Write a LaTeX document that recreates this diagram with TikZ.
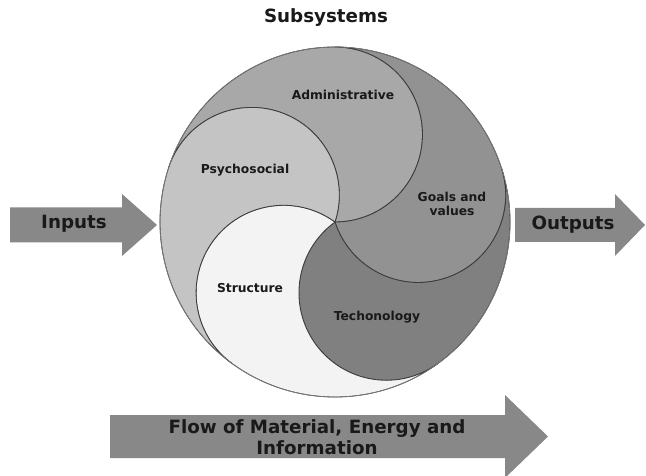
\documentclass[tikz,border=0pt]{standalone}
\usepackage{fontspec}
\setmainfont{DejaVu Sans}
\usetikzlibrary{calc}
\definecolor{admingray}{RGB}{168,168,168}
\definecolor{goalgray}{RGB}{146,146,146}
\definecolor{techgray}{RGB}{128,128,128}
\definecolor{psygray}{RGB}{196,196,196}
\definecolor{structgray}{RGB}{243,243,243}
\definecolor{arrowgray}{RGB}{136,136,136}
\definecolor{linegray}{RGB}{60,60,60}
\definecolor{textgray}{RGB}{25,25,25}
\tikzset{
  petal/.style={draw=linegray, line width=0.7pt},
  partlabel/.style={font=\bfseries\fontsize{10.5}{12.5}\selectfont, text=textgray, align=center, inner sep=0pt},
  bigtext/.style={font=\bfseries\fontsize{15.6}{18}\selectfont, text=textgray, align=center, inner sep=0pt}
}
% fat arrow: x start, x head, x tip, y centre, half body, half head
\newcommand{\fatarrow}[6]{%
\fill[arrowgray] (#1,#4-#5) -- (#2,#4-#5) -- (#2,#4-#6) -- (#3,#4) -- (#2,#4+#6) -- (#2,#4+#5) -- (#1,#4+#5) -- cycle;}

\begin{document}
\begin{tikzpicture}[x=0.03cm, y=0.03cm]
\useasboundingbox (0,0) rectangle (646,475);
\coordinate (o) at (335,253);

% five petals, each between two half-radius circles
\foreach \t/\c in {90/admingray, 18/goalgray, -54/techgray, -126/structgray, -198/psygray}{
\pgfmathsetmacro{\ta}{\t+180}
\pgfmathsetmacro{\tb}{\t+360}
\pgfmathsetmacro{\tc}{\t+72}
\pgfmathsetmacro{\td}{\t-108}
\draw[petal, fill=\c] (o) arc[start angle=\ta, end angle=\tb, radius=87.5]
  arc[start angle=\t, end angle=\tc, radius=175]
  arc[start angle=\tc, end angle=\td, radius=87.5] -- cycle;
}
\draw[draw=gray, line width=0.5pt] (o) circle (175);

\node[bigtext] (subsys) at (326,457) {Subsystems};
\node[partlabel] (admin) at (343,380) {Administrative};
\node[partlabel] (psycho) at (245,305) {Psychosocial};
\node[partlabel] (goals) at (452,271) {Goals and\\values};
\node[partlabel] (struct) at (250,187) {Structure};
\node[partlabel] (tech) at (377,158) {Techonology};

\fatarrow{10}{122}{157}{250}{17.5}{31}
\fatarrow{515}{615}{645}{250}{17}{31}
\fatarrow{110}{505}{548}{38.5}{21.5}{41.5}
\node[bigtext] (inputs) at (74,251) {Inputs};
\node[bigtext] (outputs) at (573,250) {Outputs};
\node[bigtext] (flow) at (317,37.5) {Flow of Material, Energy and\\Information};
\end{tikzpicture}
\end{document}
